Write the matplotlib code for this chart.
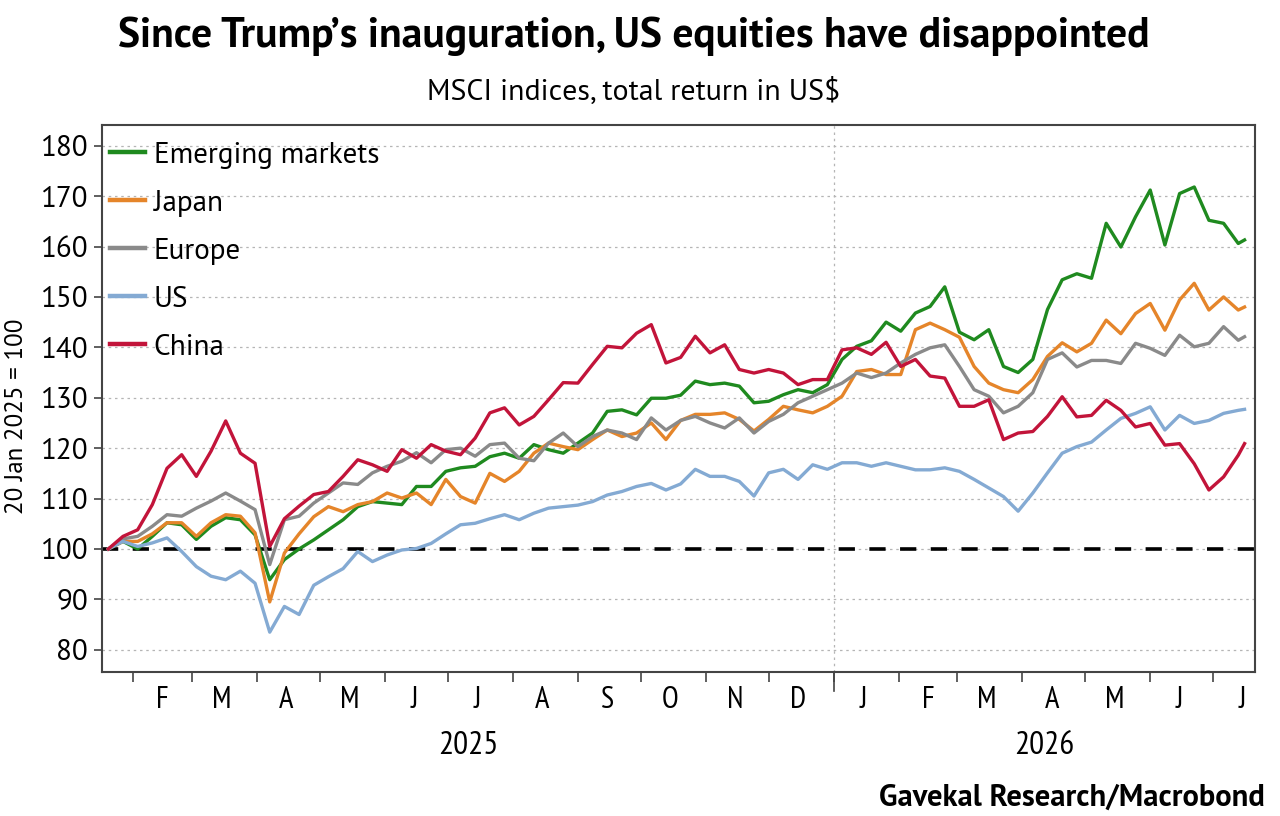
import pandas as pd
import numpy as np
import matplotlib
matplotlib.use("Agg")
import matplotlib.pyplot as plt
import matplotlib.dates as mdates
import matplotlib.transforms as mtransforms

###############################################################################
#Data (weekly, 20 Jan 2025 = 100)
###############################################################################
dates = list(pd.date_range("2025-01-20", periods=78, freq="7D")) + [pd.Timestamp("2026-07-16")]

emerging = [100, 101.5, 100, 102.5, 105.2, 104.8, 101.9, 104.5, 106.2, 105.8, 102.8, 93.9, 97.9, 100,
            101.8, 103.8, 105.8, 108.4, 109.4, 109.1, 108.8, 112.4, 112.4, 115.4, 116.1, 116.4, 118.3,
            119, 118, 120.7, 119.7, 119, 121, 123, 127.3, 127.6, 126.6, 129.9, 129.9, 130.5,
            133.3, 132.6, 132.9, 132.3, 129, 129.3, 130.6, 131.6, 131, 132.6, 137.6, 140.2, 141.3,
            145, 143.2, 146.8, 148.1, 152, 143, 141.5, 143.5, 136.2, 135, 137.6, 147.5, 153.4,
            154.6, 153.7, 164.6, 159.9, 165.9, 171.2, 160.3, 170.5, 171.8, 165.2, 164.6, 160.6, 161.3]

japan = [100, 101.5, 101.5, 103, 105.2, 105.2, 102.5, 105.2, 106.8, 106.5, 103.2, 89.5, 99.2, 103,
         106.4, 108.4, 107.4, 108.8, 109.4, 111.1, 110.1, 111.1, 108.8, 113.8, 110.4, 109.1, 115,
         113.4, 115.4, 119, 121, 120.3, 119.7, 121.7, 123.6, 122.3, 123, 125, 121.7, 125.5,
         126.7, 126.7, 127, 125.7, 123.4, 125.7, 128.3, 127.6, 127, 128.3, 130.3, 135.2, 135.6,
         134.6, 134.6, 143.5, 144.8, 143.5, 142, 136.2, 132.9, 131.6, 131, 133.6, 138.2, 140.9,
         139.1, 140.8, 145.4, 142.7, 146.7, 148.7, 143.4, 149.4, 152.7, 147.4, 150, 147.4, 148]

europe = [100, 102, 102.5, 104.5, 106.8, 106.5, 108.1, 109.5, 111.1, 109.5, 107.8, 96.9, 105.8, 106.5,
          109.1, 111.1, 113.1, 112.8, 115.1, 116.4, 117.4, 119.1, 117.1, 119.7, 120, 118.4, 120.7,
          121, 118, 117.5, 121, 123, 120.3, 122.3, 123.6, 123, 121.7, 126, 123.6, 125.5,
          126.3, 125, 124, 126, 123, 125.3, 126.7, 129, 130.3, 131.6, 132.9, 134.9, 134,
          134.9, 136.9, 138.6, 139.9, 140.5, 136.2, 131.6, 130.3, 127, 128.3, 131, 137.6, 138.9,
          136.1, 137.4, 137.4, 136.8, 140.8, 139.8, 138.4, 142.4, 140.1, 140.8, 144.1, 141.4, 142.1]

us = [100, 101.5, 100.5, 101.2, 102.2, 99.5, 96.5, 94.6, 93.9, 95.6, 93.2, 83.5, 88.6, 87,
      92.8, 94.5, 96.1, 99.5, 97.5, 98.8, 99.8, 100.1, 101.1, 103, 104.8, 105.1, 106,
      106.8, 105.8, 107.1, 108.1, 108.4, 108.7, 109.4, 110.7, 111.4, 112.4, 113, 111.7, 112.9,
      115.8, 114.4, 114.4, 113.4, 110.5, 115.1, 115.8, 113.8, 116.7, 115.8, 117.1, 117.1, 116.4,
      117.1, 116.4, 115.7, 115.7, 116.1, 115.4, 113.8, 112.1, 110.4, 107.5, 111.1, 115.1, 119,
      120.3, 121.2, 123.6, 125.9, 126.9, 128.2, 123.6, 126.5, 124.9, 125.5, 126.9, 127.5, 127.7]

china = [100, 102.5, 103.8, 108.8, 116, 118.7, 114.4, 119.4, 125.4, 119, 117, 100.5, 106, 108.5,
         110.8, 111.4, 114.4, 117.7, 116.7, 115.4, 119.7, 118, 120.7, 119.4, 118.7, 122, 127,
         128, 124.6, 126.3, 129.6, 133, 132.9, 136.6, 140.2, 139.9, 142.8, 144.5, 136.9, 138,
         142.2, 138.9, 140.5, 135.6, 134.9, 135.6, 134.9, 132.6, 133.6, 133.6, 139.5, 139.9, 138.6,
         141, 136.2, 137.6, 134.3, 133.9, 128.3, 128.3, 129.6, 121.7, 123, 123.3, 126.3, 130.2,
         126.2, 126.5, 129.5, 127.5, 124.2, 124.9, 120.6, 120.9, 116.9, 111.7, 114.3, 118.6, 120.9]

series_names = ["Emerging markets", "Japan", "Europe", "US", "China"]
series_values = [emerging, japan, europe, us, china]
series_colors = ["#1f8a1f", "#e5852a", "#8a8a8a", "#84aad3", "#c2143a"]

###############################################################################
#Plot
###############################################################################
plt.rcParams['font.family'] = ["PT Sans", "DejaVu Sans"]
narrow = ["PT Sans Narrow", "DejaVu Sans"]

fig = plt.figure(figsize=(12.8, 8.16), dpi=100)
ax = fig.add_axes([0.0797, 0.1765, 0.9008, 0.6703])

#Gridlines
ax.set_ylim(75.6, 184.1)
ax.set_yticks(np.arange(80, 181, 10))
ax.grid(axis="y", color="#b5b5b5", linestyle=(0, (2, 3)), linewidth=0.9)
ax.set_axisbelow(True)

#Series
for name, vals, col in zip(series_names, series_values, series_colors):
    ax.plot(dates, vals, color=col, linewidth=2.4, label=name, solid_joinstyle="round")

#Base line at 100
ax.axhline(100, color="black", linewidth=2.6, linestyle=(0, (4.5, 4)), zorder=1.5)

#Year boundary
year_start = pd.Timestamp("2026-01-01")
ax.axvline(year_start, color="#b5b5b5", linestyle=(0, (2, 3)), linewidth=0.9, zorder=0)

#X axis
x_start = pd.Timestamp("2025-01-17")
x_end = pd.Timestamp("2026-07-21")
ax.set_xlim(x_start, x_end)
ax.xaxis.set_major_locator(mdates.MonthLocator())
ax.xaxis.set_major_formatter(plt.NullFormatter())
ax.xaxis.set_minor_locator(mdates.MonthLocator(bymonthday=15))
ax.xaxis.set_minor_formatter(plt.FuncFormatter(lambda x, pos: mdates.num2date(x).strftime("%b")[0]))
ax.tick_params(axis="x", which="major", direction="out", length=7, width=1.2, color="#444444")
ax.tick_params(axis="x", which="minor", length=0, pad=10, labelsize=22)
ax.tick_params(axis="y", direction="out", length=6, width=1.2, color="#444444", labelsize=21, pad=4)
for lab in ax.get_xticklabels(minor=True):
    lab.set_family(narrow)

#Longer tick at year change
trans = mtransforms.blended_transform_factory(ax.transData, ax.transAxes)
ax.plot([year_start, year_start], [0, -0.035], transform=trans, color="#444444",
        linewidth=1.2, clip_on=False)

#Year labels
mid_2025 = x_start + (year_start - x_start) / 2
mid_2026 = year_start + (x_end - year_start) / 2
ax.text(mid_2025, -0.135, "2025", transform=trans, ha="center", va="center", fontsize=24, family=narrow)
ax.text(mid_2026, -0.135, "2026", transform=trans, ha="center", va="center", fontsize=24, family=narrow)

#Frame
for s in ax.spines.values():
    s.set_color("#444444")
    s.set_linewidth(1.5)

ax.set_ylabel("20 Jan 2025 = 100", fontsize=18)
ax.yaxis.set_label_coords(-0.064, 0.468)

#Legend
leg = ax.legend(loc="upper left", bbox_to_anchor=(0, 0.984), frameon=False, fontsize=21,
                handlelength=1.2, handletextpad=0.3, labelspacing=0.72,
                borderaxespad=0.12, borderpad=0.15)
for h in leg.get_lines():
    h.set_linewidth(3.2)

#Titles
fig.text(0.495, 0.955, "Since Trump\u2019s inauguration, US equities have disappointed",
         ha="center", va="center", fontsize=30, fontweight="bold")
fig.text(0.495, 0.887, "MSCI indices, total return in US$", ha="center", va="center", fontsize=21.5)
fig.text(0.988, 0.023, "Gavekal Research/Macrobond", ha="right", va="center", fontsize=22,
         fontweight="bold")

fig.savefig("out.png", dpi=100)
